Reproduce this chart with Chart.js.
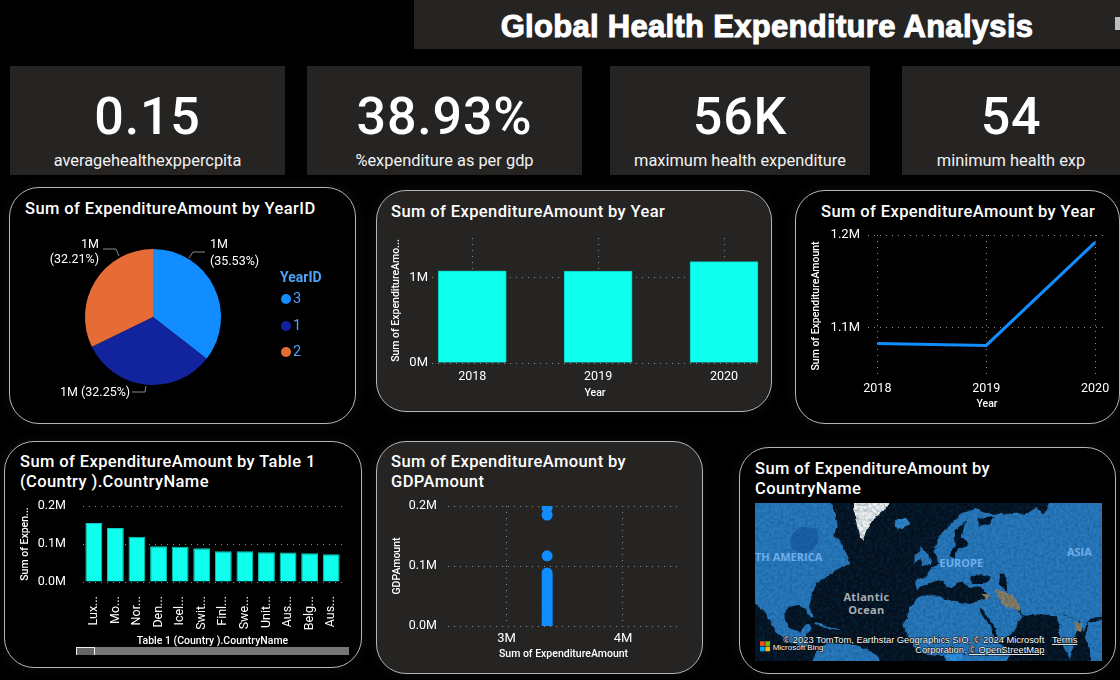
<!DOCTYPE html>
<html>
<head>
<meta charset="utf-8">
<title>Global Health Expenditure Analysis</title>
<script src="https://cdn.jsdelivr.net/npm/chart.js@4"></script>
<style>
  html, body { margin: 0; padding: 0; background: #000; width: 1120px; height: 680px; overflow: hidden; }
  body { position: relative; font-family: Roboto, sans-serif; color: #fff; }
  .abs { position: absolute; }
  .banner { left: 414px; top: 0; width: 706px; height: 49px; background: #252423; }
  .banner div { text-align: center; padding-top: 9px; font: bold 31px/36px "Liberation Sans", sans-serif; -webkit-text-stroke: 1px #fff; letter-spacing: 0.3px; }
  .tab { left: 1115px; top: 17px; width: 5px; height: 13px; background: #bdbdbd; }
  .kpi { top: 66px; height: 109px; background: #252423; text-align: center; }
  .kpi .num { position: absolute; left: 0; right: 0; top: 20px; font-size: 52px; font-weight: 500; line-height: 62px; letter-spacing: 0.8px; }
  .kpi .cap { position: absolute; left: 0; right: 0; top: 85px; font-size: 16.4px; line-height: 20px; color: #f2f2f2; }
  .panel { box-sizing: border-box; border: 1px solid #b5b5b5; border-radius: 30px; box-shadow: 0 0 14px rgba(255,255,255,0.06); }
  .dark { background: #000; }
  .grey { background: #252423; }
  .head { font-size: 16.5px; font-weight: 500; line-height: 20px; letter-spacing: 0.4px; }
  canvas { position: absolute; }
  .track { left: 76px; top: 647px; width: 273px; height: 8px; background: #777; }
  .thumb { left: 76px; top: 647px; width: 17px; height: 7px; background: #666; border: 1px solid #eee; border-bottom: none; }
  .map { left: 755px; top: 503px; width: 347px; height: 158px; }
</style>
</head>
<body>

<div class="abs banner"><div id="bannerText"></div></div>
<div class="abs tab"></div>

<div id="kpis"></div>

<div class="abs panel dark" style="left:9px;top:187px;width:347px;height:237px"></div>
<div class="abs panel grey" style="left:376px;top:190px;width:396px;height:222px"></div>
<div class="abs panel dark" style="left:795px;top:190px;width:325px;height:234px"></div>
<div class="abs panel dark" style="left:4px;top:441px;width:358px;height:227px"></div>
<div class="abs panel grey" style="left:376px;top:441px;width:327px;height:233px"></div>
<div class="abs panel dark" style="left:739px;top:447px;width:377px;height:227px"></div>

<div class="abs head" style="left:25px;top:199px">Sum of ExpenditureAmount by YearID</div>
<div class="abs head" style="left:391px;top:202px">Sum of ExpenditureAmount by Year</div>
<div class="abs head" style="left:821px;top:202px">Sum of ExpenditureAmount by Year</div>
<div class="abs head" style="left:20px;top:452px;width:330px">Sum of ExpenditureAmount by Table 1<br>(Country ).CountryName</div>
<div class="abs head" style="left:391px;top:452px;width:300px">Sum of ExpenditureAmount by<br>GDPAmount</div>
<div class="abs head" style="left:755px;top:459px;width:300px">Sum of ExpenditureAmount by<br>CountryName</div>

<canvas id="pieChart" width="347" height="237" style="left:9px;top:187px"></canvas>
<canvas id="barYear" width="396" height="222" style="left:376px;top:190px"></canvas>
<canvas id="lineYear" width="325" height="234" style="left:795px;top:190px"></canvas>
<canvas id="barCountry" width="358" height="227" style="left:4px;top:441px"></canvas>
<canvas id="scatterGdp" width="327" height="233" style="left:376px;top:441px"></canvas>

<div class="abs track"></div>
<div class="abs thumb"></div>

<!-- base map, only a backdrop: the visual has no marks on it -->
<svg class="abs map" viewBox="60 190 1040 472" preserveAspectRatio="none">
  <defs>
    <filter id="soft" x="-5%" y="-5%" width="110%" height="110%">
      <feTurbulence type="fractalNoise" baseFrequency="0.035" numOctaves="3" seed="7" result="n"/>
      <feDisplacementMap in="SourceGraphic" in2="n" scale="16" xChannelSelector="R" yChannelSelector="G"/>
      <feGaussianBlur stdDeviation="1.2"/>
    </filter>
    <filter id="grain">
      <feTurbulence type="fractalNoise" baseFrequency="0.11" numOctaves="3" seed="4"/>
      <feColorMatrix values="0 0 0 0 0  0 0 0 0 0.06  0 0 0 0 0.16  1.7 0 0 0 -0.6"/>
    </filter>
    <clipPath id="mapClip"><rect x="60" y="190" width="1040" height="472"/></clipPath>
  </defs>
  <g clip-path="url(#mapClip)">
    <rect x="60" y="190" width="1040" height="472" fill="#060f1c"/>
    <g filter="url(#soft)">
      <!-- north and central america -->
      <polygon fill="#2b79bd" points="40,170 285,170 300,225 305,260 298,285 325,320 340,350 345,372 320,385 290,400 262,415 240,440 230,470 222,500 236,530 225,532 212,505 190,495 165,500 148,520 150,540 165,560 195,578 208,560 226,556 226,572 205,590 225,612 205,625 160,605 125,575 100,535 85,510 40,480"/>
      <polygon fill="#1a5fa6" points="165,295 185,268 215,262 245,270 250,300 235,330 200,345 170,325"/>
      <!-- cuba and the caribbean islands -->
      <polygon fill="#2b79bd" points="240,545 285,558 320,570 285,566 245,555"/>
      <!-- south america -->
      <polygon fill="#2b79bd" points="225,680 245,630 285,605 340,610 395,625 430,650 440,680"/>
      <!-- greenland and iceland -->
      <polygon fill="#f1f1ef" points="355,170 470,170 455,205 420,235 400,265 385,300 370,280 360,235"/>
      <polygon fill="#3285cc" points="475,245 510,235 522,250 505,268 485,265"/>
      <!-- eurasia -->
      <polygon fill="#2b79bd" points="545,450 540,425 572,408 590,380 610,372 598,335 605,295 640,258 680,218 720,205 770,222 870,222 900,202 925,225 950,170 1120,170 1120,532 1065,535 1045,575 1030,535 990,528 965,528 900,525 862,522 845,495 800,465 760,470 740,440 700,440 680,425 650,440 620,425 590,425 575,435"/>
      <!-- india and south east asia -->
      <polygon fill="#2b79bd" points="965,526 1032,535 1020,590 1010,630 1000,655 985,620 970,570"/>
      <polygon fill="#2b79bd" points="1062,548 1120,535 1120,680 1072,680 1062,622 1048,590"/>
      <!-- africa and arabia -->
      <polygon fill="#2b79bd" points="505,560 515,520 545,475 575,462 640,478 705,492 745,478 785,462 862,525 835,575 790,610 830,640 800,680 640,680 625,645 570,640 540,625"/>
      <polygon fill="#2f8fe0" points="630,640 680,636 690,680 640,680"/>
      <!-- britain and ireland -->
      <polygon fill="#2b79bd" points="560,320 578,340 588,372 560,378 548,350"/>
      <polygon fill="#2b79bd" points="535,345 550,340 552,362 535,368"/>
      <!-- seas over the land -->
      <polygon fill="#060f1c" points="640,345 662,318 658,272 690,245 680,290 700,312 700,322 672,325 655,352"/>
      <polygon fill="#060f1c" points="730,238 775,232 765,250 735,258"/>
      <polygon fill="#060f1c" points="705,412 735,402 765,410 750,432 712,432"/>
      <polygon fill="#060f1c" points="790,402 812,400 815,452 795,440"/>
      <polygon fill="#060f1c" points="730,505 740,503 795,590 785,595"/>
      <!-- drier land -->
      <polygon fill="#8c7d63" points="780,450 810,455 840,470 855,515 820,505 790,480"/>
      <polygon fill="#8c7d63" points="1015,545 1040,552 1040,575 1020,570"/>
      <polygon fill="#8c7d63" points="735,465 765,460 755,480"/>
    </g>
    <rect x="60" y="190" width="1040" height="472" filter="url(#grain)" opacity="0.45"/>
    <g font-family="'Open Sans', sans-serif" font-weight="700">
      <text x="60" y="362" font-size="33" fill="#6eaeea">TH AMERICA</text>
      <text x="613" y="380" font-size="33" fill="#6eaeea">EUROPE</text>
      <text x="995" y="349" font-size="33" fill="#6eaeea">ASIA</text>
      <text x="394" y="484" font-size="33" letter-spacing="1" fill="#a9adb2" text-anchor="middle">Atlantic</text>
      <text x="394" y="522" font-size="33" letter-spacing="1" fill="#a9adb2" text-anchor="middle">Ocean</text>
    </g>
    <rect x="75" y="603" width="14" height="14" fill="#f25022"/>
    <rect x="91" y="603" width="14" height="14" fill="#7fba00"/>
    <rect x="75" y="619" width="14" height="14" fill="#00a4ef"/>
    <rect x="91" y="619" width="14" height="14" fill="#ffb900"/>
    <g font-family="'Liberation Sans', sans-serif" fill="#fff" style="paint-order:stroke" stroke="#000" stroke-width="3">
      <text x="113" y="628" font-size="24">Microsoft Bing</text>
      <text x="145" y="608" font-size="28">© 2023 TomTom, Earthstar Geographics SIO, © 2024 Microsoft</text>
      <text x="950" y="608" font-size="28" text-decoration="underline">Terms</text>
      <text x="540" y="638" font-size="28">Corporation, <tspan text-decoration="underline">© OpenStreetMap</tspan></text>
    </g>
  </g>
</svg>

<script>
const bannerTitle = 'Global Health Expenditure Analysis';
const kpiValues = ['0.15', '38.93%', '56K', '54'];
const kpiCaptions = ['averagehealthexppercpita', '%expenditure as per gdp', 'maximum health expenditure', 'minimum health exp'];

const yearIds = ['3', '1', '2'];
const yearIdTotals = [1190000, 1080000, 1078700];

const years = [2018, 2019, 2020];
const yearTotals = [1083000, 1081000, 1192000];
const barYearTicks = [0, 1000000];
const lineYearTicks = [1100000, 1200000];

const countryLabels = ['Lux...', 'Mo...', 'Nor...', 'Den...', 'Icel...', 'Swit...', 'Finl...', 'Swe...', 'Unit...', 'Aus...', 'Belg...', 'Aus...'];
const countryTotals = [155000, 142000, 119000, 94000, 92500, 89000, 81000, 81000, 78400, 77500, 75800, 73100];
const countryTicks = [0, 100000, 200000];

const scatterExpenditure = 3349000;
const gdpAmounts = [197000, 185000, 117000, 88500, 84000, 79500, 76000, 71000, 67500, 63000, 58500, 55000, 50500, 46000, 43000, 38500, 34000, 30500, 26000, 22500, 18000, 13500, 9500, 5500, 2000];
const scatterXTicks = [3000000, 4000000];
const scatterYTicks = [0, 100000, 200000];

// colours and fonts
const BLUE = '#118DFF';
const NAVY = '#12239E';
const ORANGE = '#E66C37';
const CYAN = '#0FFFEE';
const GRID = '#8c8c8c';
const FONT = 'Roboto';
const sliceColors = [BLUE, NAVY, ORANGE];

Chart.defaults.animation = false;
Chart.defaults.responsive = false;
Chart.defaults.font.family = FONT;
Chart.defaults.color = '#fff';
Chart.defaults.plugins.legend.display = false;
Chart.defaults.plugins.tooltip.enabled = false;

document.getElementById('bannerText').textContent = bannerTitle;

// kpi cards: left, width of each card
const kpiBoxes = [[10, 275], [307, 275], [610, 260], [902, 218]];
document.getElementById('kpis').innerHTML = kpiValues.map(function (v, i) {
    return '<div class="abs kpi" style="left:' + kpiBoxes[i][0] + 'px;width:' + kpiBoxes[i][1] + 'px">' +
        '<div class="num">' + v + '</div><div class="cap">' + kpiCaptions[i] + '</div></div>';
}).join('');

// pins the plot area to page coordinates, canvas is [x, y, w, h]
function pinArea(canvas, area) {
    return {
        padding: { left: 0, bottom: 0, top: area.top - canvas[1], right: canvas[0] + canvas[2] - area.right },
        yFit: function (s) { s.width = area.left - canvas[0]; },
        xFit: function (s) { s.height = canvas[1] + canvas[3] - area.bottom; }
    };
}

// the ticks stay where the report has them, the axis ends do not round to them
function fixedTicks(values) {
    return function (scale) {
        scale.ticks = values.map(function (v) { return { value: v }; });
    };
}

function dotted() {
    return { color: GRID, lineWidth: 1, drawTicks: false, tickLength: 0, offset: false };
}
const dottedBorder = { display: false, dash: [1, 5] };

function axisTitle(text, size, pad) {
    return { display: true, text: text, color: '#fff', font: { size: size, weight: '500' }, padding: pad };
}

function millions(decimals) {
    return function (v) { return (v / 1000000).toFixed(decimals) + 'M'; };
}

function plainYear(v) {
    return String(v);
}

// pie callouts and legend are drawn the Power BI way
const pieCallouts = [
    { lines: ['1M', '(35.53%)'], x: 210, y: [245, 262], align: 'left', path: [[189, 258], [193, 252], [205, 252]] },
    { lines: ['1M (32.25%)'], x: 60, y: [393], align: 'left', path: [[132, 392], [145, 392], [146, 386]] },
    { lines: ['1M', '(32.21%)'], x: 99, y: [245, 260], align: 'right', path: [[119, 256], [116, 249], [103, 249]] }
];
const pieLegend = { x: 280, titleY: 278, rowY: [299, 326, 352] };

const pieExtras = {
    id: 'pieExtras',
    afterDraw: function (chart) {
        const ctx = chart.ctx;
        const ox = 9, oy = 187;
        ctx.save();
        ctx.font = '12.5px ' + FONT;
        ctx.textBaseline = 'middle';
        pieCallouts.forEach(function (c) {
            ctx.strokeStyle = '#8a8a8a';
            ctx.lineWidth = 1;
            ctx.beginPath();
            c.path.forEach(function (p, i) {
                if (i === 0) ctx.moveTo(p[0] - ox, p[1] - oy);
                else ctx.lineTo(p[0] - ox, p[1] - oy);
            });
            ctx.stroke();
            ctx.fillStyle = '#fff';
            ctx.textAlign = c.align;
            c.lines.forEach(function (t, i) { ctx.fillText(t, c.x - ox, c.y[i] - oy); });
        });
        ctx.textAlign = 'left';
        ctx.fillStyle = '#4FA3F7';
        ctx.font = '700 14px ' + FONT;
        ctx.fillText('YearID', pieLegend.x - ox, pieLegend.titleY - oy);
        ctx.font = '14.5px ' + FONT;
        yearIds.forEach(function (id, i) {
            const y = pieLegend.rowY[i] - oy;
            ctx.fillStyle = sliceColors[i];
            ctx.beginPath();
            ctx.arc(pieLegend.x + 6 - ox, y, 5, 0, Math.PI * 2);
            ctx.fill();
            ctx.fillStyle = '#4FA3F7';
            ctx.fillText(id, pieLegend.x + 13 - ox, y);
        });
        ctx.restore();
    }
};

// YearID pie
new Chart(document.getElementById('pieChart'), {
    type: 'pie',
    data: {
        labels: yearIds,
        datasets: [{ data: yearIdTotals, backgroundColor: sliceColors, borderWidth: 0, radius: 68 }]
    },
    options: { layout: { padding: { left: 0, top: 23, right: 59, bottom: 0 } } },
    plugins: [pieExtras]
});

// Expenditure by year, bars
const barBox = [376, 190, 396, 222];
const barPin = pinArea(barBox, { left: 432, right: 758, top: 238, bottom: 363 });
new Chart(document.getElementById('barYear'), {
    type: 'bar',
    data: {
        datasets: [{
            data: years.map(function (y, i) { return { x: y, y: yearTotals[i] }; }),
            backgroundColor: CYAN, borderColor: '#0cc9bc', borderWidth: 1, barThickness: 68, clip: false
        }]
    },
    options: {
        layout: { padding: barPin.padding },
        scales: {
            x: {
                type: 'linear', offset: false, bounds: 'data', min: 2017.68, max: 2020.27, afterFit: barPin.xFit, afterBuildTicks: fixedTicks(years),
                grid: dotted(), border: dottedBorder,
                ticks: { padding: 6, font: { size: 12.5 }, callback: plainYear },
                title: axisTitle('Year', 10.5, { top: 0, bottom: 12 })
            },
            y: {
                bounds: 'data', min: 0, max: 1470000, afterFit: barPin.yFit, afterBuildTicks: fixedTicks(barYearTicks),
                grid: dotted(), border: dottedBorder,
                ticks: { padding: 4, font: { size: 13 }, callback: millions(0) },
                title: axisTitle('Sum of ExpenditureAmo...', 10.5, { top: 14, bottom: 0 })
            }
        }
    }
});

// Expenditure by year, line
const lineBox = [795, 190, 325, 234];
const linePin = pinArea(lineBox, { left: 868, right: 1106, top: 235, bottom: 377 });
new Chart(document.getElementById('lineYear'), {
    type: 'line',
    data: {
        datasets: [{
            data: years.map(function (y, i) { return { x: y, y: yearTotals[i] }; }),
            borderColor: BLUE, borderWidth: 3, pointRadius: 0, tension: 0, clip: false
        }]
    },
    options: {
        layout: { padding: linePin.padding },
        scales: {
            x: {
                type: 'linear', bounds: 'data', min: 2017.914, max: 2020.1, afterFit: linePin.xFit, afterBuildTicks: fixedTicks(years),
                grid: dotted(), border: dottedBorder,
                ticks: { padding: 4, font: { size: 12.5 }, callback: plainYear },
                title: axisTitle('Year', 10.5, { top: 0, bottom: 13 })
            },
            y: {
                bounds: 'data', min: 1047000, max: 1200000, afterFit: linePin.yFit, afterBuildTicks: fixedTicks(lineYearTicks),
                grid: dotted(), border: dottedBorder,
                ticks: { padding: 8, font: { size: 13 }, callback: millions(1) },
                title: axisTitle('Sum of ExpenditureAmount', 10.5, { top: 15, bottom: 0 })
            }
        }
    }
});

// Expenditure by country
const countryBox = [4, 441, 358, 227];
const countryPin = pinArea(countryBox, { left: 83, right: 342, top: 506, bottom: 582 });
new Chart(document.getElementById('barCountry'), {
    type: 'bar',
    data: {
        labels: countryLabels,
        datasets: [{
            data: countryTotals, backgroundColor: CYAN, borderColor: '#0cc9bc', borderWidth: 1,
            barPercentage: 0.78, categoryPercentage: 1
        }]
    },
    options: {
        layout: { padding: countryPin.padding },
        scales: {
            x: {
                afterFit: countryPin.xFit, grid: { display: false }, border: { display: false },
                ticks: { autoSkip: false, minRotation: 90, maxRotation: 90, padding: 6, font: { size: 12.5 } },
                title: axisTitle('Table 1 (Country ).CountryName', 10.5, { top: 0, bottom: 20 })
            },
            y: {
                bounds: 'data', min: 0, max: 200000, afterFit: countryPin.yFit, afterBuildTicks: fixedTicks(countryTicks),
                grid: dotted(), border: dottedBorder,
                ticks: { padding: 17, font: { size: 12.5 }, callback: millions(1) },
                title: axisTitle('Sum of Expen...', 10.5, { top: 15, bottom: 0 })
            }
        }
    }
});

// Expenditure against GDP
const scatterBox = [376, 441, 327, 233];
const scatterPin = pinArea(scatterBox, { left: 448, right: 679, top: 506, bottom: 626 });
new Chart(document.getElementById('scatterGdp'), {
    type: 'scatter',
    data: {
        datasets: [{
            data: gdpAmounts.map(function (g) { return { x: scatterExpenditure, y: g }; }),
            backgroundColor: BLUE, borderWidth: 0, pointRadius: 5.5, clip: 0
        }]
    },
    options: {
        layout: { padding: scatterPin.padding },
        scales: {
            x: {
                type: 'linear', bounds: 'data', min: 2498000, max: 4481000, afterFit: scatterPin.xFit, afterBuildTicks: fixedTicks(scatterXTicks),
                grid: dotted(), border: dottedBorder,
                ticks: { padding: 5, font: { size: 13 }, callback: millions(0) },
                title: axisTitle('Sum of ExpenditureAmount', 10.5, { top: 0, bottom: 13 })
            },
            y: {
                bounds: 'data', min: 0, max: 200000, afterFit: scatterPin.yFit, afterBuildTicks: fixedTicks(scatterYTicks),
                grid: dotted(), border: dottedBorder,
                ticks: { padding: 11, font: { size: 12.5 }, callback: millions(1) },
                title: axisTitle('GDPAmount', 10.5, { top: 15, bottom: 0 })
            }
        }
    }
});
</script>
</body>
</html>
